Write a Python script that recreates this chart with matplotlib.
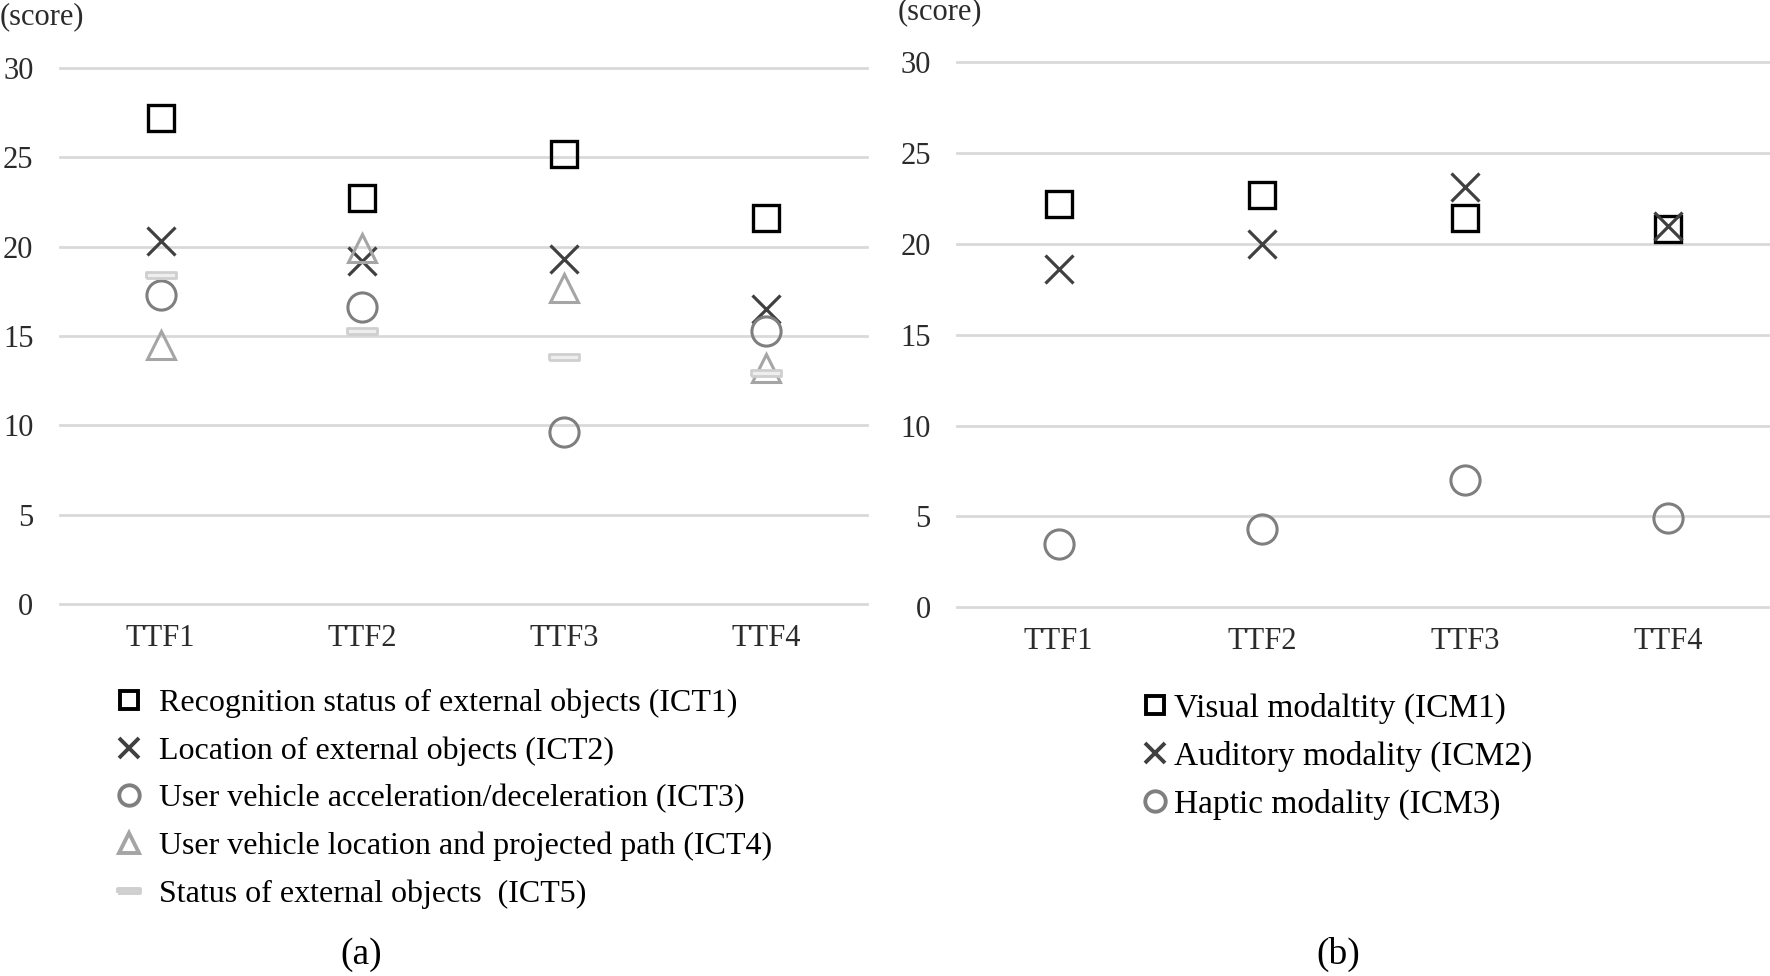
import matplotlib
matplotlib.use("Agg")
import matplotlib.pyplot as plt
import numpy as np

plt.rcParams['font.family'] = ['Liberation Serif', 'DejaVu Serif']

categories = ['TTF1', 'TTF2', 'TTF3', 'TTF4']

# (a) information content types
ict1 = [27.2, 22.7, 25.2, 21.6]
ict2 = [20.3, 19.2, 19.3, 16.5]
ict3 = [17.3, 16.6, 9.6, 15.3]
ict4 = [14.5, 19.9, 17.7, 13.2]
ict5 = [18.4, 15.3, 13.8, 12.9]
labels_a = ['Recognition status of external objects (ICT1)',
            'Location of external objects (ICT2)',
            'User vehicle acceleration/deceleration (ICT3)',
            'User vehicle location and projected path (ICT4)',
            'Status of external objects  (ICT5)']

# (b) information content modalities
icm1 = [22.2, 22.7, 21.4, 20.8]
icm2 = [18.6, 20.0, 23.1, 21.0]
icm3 = [3.5, 4.3, 7.0, 4.9]
labels_b = ['Visual modaltity (ICM1)',
            'Auditory modality (ICM2)',
            'Haptic modality (ICM3)']

dash = [(-1, -0.18), (1, -0.18), (1, 0.18), (-1, 0.18), (-1, -0.18)]
styles = [
    dict(marker='s', ms=19, mfc='none', mec='#000000', mew=2.4),
    dict(marker='x', ms=20, mec='#404040', mew=2.3),
    dict(marker='o', ms=21, mfc='none', mec='#7f7f7f', mew=2.2),
    dict(marker='^', ms=20, mfc='none', mec='#a5a5a5', mew=2.2),
    dict(marker=dash, ms=22, mfc='#eeeeee', mec='#cfcfcf', mew=2.0),
]

fig = plt.figure(figsize=(17.7, 9.76), dpi=100)
ax1 = fig.add_axes([0.0338, 0.381, 0.4560, 0.5496])
ax2 = fig.add_axes([0.5407, 0.3778, 0.4593, 0.5587])

x = np.arange(len(categories))


def style_axes(ax):
    ax.set_xlim(-0.5, 3.5)
    ax.set_ylim(0, 30)
    ax.set_yticks([0, 5, 10, 15, 20, 25, 30])
    ax.set_xticks(x)
    ax.set_xticklabels(categories)
    for s in ax.spines.values():
        s.set_visible(False)
    ax.grid(axis='y', color='#d9d9d9', lw=2)
    for gl in ax.get_ygridlines():
        gl.set_clip_on(False)
    ax.set_axisbelow(True)
    ax.tick_params(axis='y', length=0, pad=19, labelsize=22, labelcolor='#2b2b2b')
    ax.tick_params(axis='x', length=0, pad=14, labelsize=22, labelcolor='#2b2b2b')


handles_a = []
for vals, st, lab in zip([ict1, ict2, ict3, ict4, ict5], styles, labels_a):
    h, = ax1.plot(x, vals, ls='none', label=lab, clip_on=False, **st)
    handles_a.append(h)
style_axes(ax1)

handles_b = []
for vals, st, lab in zip([icm1, icm2, icm3], styles, labels_b):
    h, = ax2.plot(x, vals, ls='none', label=lab, clip_on=False, **st)
    handles_b.append(h)
style_axes(ax2)

leg_a = fig.legend(handles=handles_a, loc='upper left', bbox_to_anchor=(0.0637, 0.2945),
                   frameon=False, fontsize=23, markerscale=0.7, handlelength=1.0,
                   handletextpad=0.45, labelspacing=0.57, borderaxespad=0, borderpad=0)
leg_b = fig.legend(handles=handles_b, loc='upper left', bbox_to_anchor=(0.6469, 0.290),
                   frameon=False, fontsize=24, markerscale=0.7, handlelength=0.6,
                   handletextpad=0.28, labelspacing=0.5, borderaxespad=0, borderpad=0)
for leg in (leg_a, leg_b):
    for h in leg.legend_handles:
        h.set_markeredgewidth(2.8)

fig.text(0.0, 0.983, '(score)', fontsize=22, color='#2b2b2b', va='center', ha='left')
fig.text(0.507, 0.988, '(score)', fontsize=22, color='#2b2b2b', va='center', ha='left')
fig.text(0.204, 0.022, '(a)', fontsize=27, ha='center', va='center')
fig.text(0.756, 0.022, '(b)', fontsize=27, ha='center', va='center')

fig.savefig('out.png', dpi=100)
